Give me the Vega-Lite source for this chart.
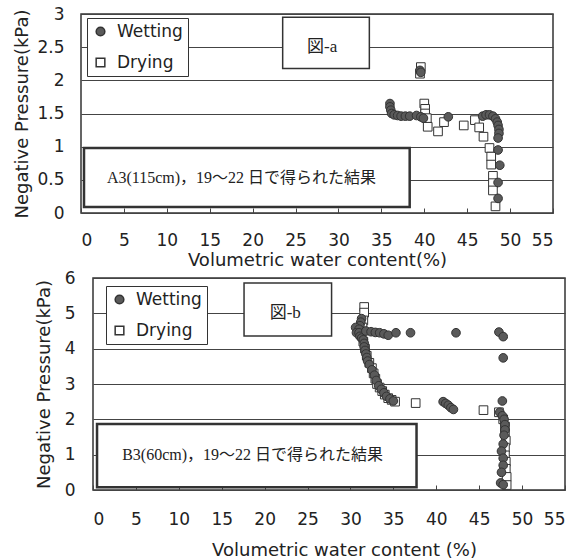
{
  "$schema": "https://vega.github.io/schema/vega-lite/v6.json",
  "background": "white",
  "padding": {"left": 0, "top": 4, "right": 4, "bottom": 4},
  "datasets": {
    "panelA": [
      {"process": "Drying", "water_content": 39.6, "pressure_kPa": 2.2},
      {"process": "Drying", "water_content": 39.5, "pressure_kPa": 2.1},
      {"process": "Drying", "water_content": 40.0, "pressure_kPa": 1.65},
      {"process": "Drying", "water_content": 40.1, "pressure_kPa": 1.57},
      {"process": "Drying", "water_content": 40.1, "pressure_kPa": 1.5},
      {"process": "Drying", "water_content": 40.3, "pressure_kPa": 1.43},
      {"process": "Drying", "water_content": 40.4, "pressure_kPa": 1.3},
      {"process": "Drying", "water_content": 41.6, "pressure_kPa": 1.23},
      {"process": "Drying", "water_content": 42.3, "pressure_kPa": 1.37},
      {"process": "Drying", "water_content": 44.6, "pressure_kPa": 1.32},
      {"process": "Drying", "water_content": 45.9, "pressure_kPa": 1.4},
      {"process": "Drying", "water_content": 46.4, "pressure_kPa": 1.29},
      {"process": "Drying", "water_content": 46.9, "pressure_kPa": 1.15},
      {"process": "Drying", "water_content": 47.6, "pressure_kPa": 0.98},
      {"process": "Drying", "water_content": 47.8, "pressure_kPa": 0.85},
      {"process": "Drying", "water_content": 47.8, "pressure_kPa": 0.73},
      {"process": "Drying", "water_content": 48.0, "pressure_kPa": 0.56},
      {"process": "Drying", "water_content": 48.0, "pressure_kPa": 0.45},
      {"process": "Drying", "water_content": 48.0, "pressure_kPa": 0.34},
      {"process": "Drying", "water_content": 48.3, "pressure_kPa": 0.1},
      {"process": "Wetting", "water_content": 39.5, "pressure_kPa": 2.15},
      {"process": "Wetting", "water_content": 39.6, "pressure_kPa": 2.12},
      {"process": "Wetting", "water_content": 36.0, "pressure_kPa": 1.65},
      {"process": "Wetting", "water_content": 36.0, "pressure_kPa": 1.6},
      {"process": "Wetting", "water_content": 36.1, "pressure_kPa": 1.55},
      {"process": "Wetting", "water_content": 36.2, "pressure_kPa": 1.5},
      {"process": "Wetting", "water_content": 36.5, "pressure_kPa": 1.48},
      {"process": "Wetting", "water_content": 36.9, "pressure_kPa": 1.47},
      {"process": "Wetting", "water_content": 37.3, "pressure_kPa": 1.46},
      {"process": "Wetting", "water_content": 37.8, "pressure_kPa": 1.46},
      {"process": "Wetting", "water_content": 38.3, "pressure_kPa": 1.46},
      {"process": "Wetting", "water_content": 39.1, "pressure_kPa": 1.47},
      {"process": "Wetting", "water_content": 39.6, "pressure_kPa": 1.45},
      {"process": "Wetting", "water_content": 39.9, "pressure_kPa": 1.43},
      {"process": "Wetting", "water_content": 42.8, "pressure_kPa": 1.45},
      {"process": "Wetting", "water_content": 46.8, "pressure_kPa": 1.46},
      {"process": "Wetting", "water_content": 47.2, "pressure_kPa": 1.48},
      {"process": "Wetting", "water_content": 47.6, "pressure_kPa": 1.48},
      {"process": "Wetting", "water_content": 48.0, "pressure_kPa": 1.46},
      {"process": "Wetting", "water_content": 48.3, "pressure_kPa": 1.42},
      {"process": "Wetting", "water_content": 48.5, "pressure_kPa": 1.37},
      {"process": "Wetting", "water_content": 48.6, "pressure_kPa": 1.32},
      {"process": "Wetting", "water_content": 48.7, "pressure_kPa": 1.26},
      {"process": "Wetting", "water_content": 48.7, "pressure_kPa": 1.2},
      {"process": "Wetting", "water_content": 48.6, "pressure_kPa": 1.13},
      {"process": "Wetting", "water_content": 48.6, "pressure_kPa": 0.95},
      {"process": "Wetting", "water_content": 48.8, "pressure_kPa": 0.72},
      {"process": "Wetting", "water_content": 48.6, "pressure_kPa": 0.46},
      {"process": "Wetting", "water_content": 48.6, "pressure_kPa": 0.22}
    ],
    "panelB": [
      {"process": "Drying", "water_content": 31.6, "pressure_kPa": 5.18},
      {"process": "Drying", "water_content": 31.6, "pressure_kPa": 5.02},
      {"process": "Drying", "water_content": 31.5, "pressure_kPa": 4.8},
      {"process": "Drying", "water_content": 31.4, "pressure_kPa": 4.6},
      {"process": "Drying", "water_content": 31.3, "pressure_kPa": 4.4},
      {"process": "Drying", "water_content": 31.5, "pressure_kPa": 4.2},
      {"process": "Drying", "water_content": 31.7, "pressure_kPa": 4.0},
      {"process": "Drying", "water_content": 31.9, "pressure_kPa": 3.8},
      {"process": "Drying", "water_content": 32.2, "pressure_kPa": 3.6},
      {"process": "Drying", "water_content": 32.5, "pressure_kPa": 3.45},
      {"process": "Drying", "water_content": 32.7, "pressure_kPa": 3.3},
      {"process": "Drying", "water_content": 32.9, "pressure_kPa": 3.15},
      {"process": "Drying", "water_content": 33.1, "pressure_kPa": 3.0},
      {"process": "Drying", "water_content": 33.4, "pressure_kPa": 2.9},
      {"process": "Drying", "water_content": 33.7, "pressure_kPa": 2.8},
      {"process": "Drying", "water_content": 34.0, "pressure_kPa": 2.7},
      {"process": "Drying", "water_content": 34.4, "pressure_kPa": 2.6},
      {"process": "Drying", "water_content": 34.8, "pressure_kPa": 2.55},
      {"process": "Drying", "water_content": 35.2, "pressure_kPa": 2.5},
      {"process": "Drying", "water_content": 37.6, "pressure_kPa": 2.46},
      {"process": "Drying", "water_content": 45.5, "pressure_kPa": 2.26},
      {"process": "Drying", "water_content": 47.3, "pressure_kPa": 2.2},
      {"process": "Drying", "water_content": 47.8, "pressure_kPa": 2.0},
      {"process": "Drying", "water_content": 48.0, "pressure_kPa": 1.8},
      {"process": "Drying", "water_content": 48.0, "pressure_kPa": 1.6},
      {"process": "Drying", "water_content": 48.1, "pressure_kPa": 1.4},
      {"process": "Drying", "water_content": 48.0, "pressure_kPa": 1.2},
      {"process": "Drying", "water_content": 48.0, "pressure_kPa": 0.98},
      {"process": "Drying", "water_content": 48.1, "pressure_kPa": 0.8},
      {"process": "Drying", "water_content": 48.1, "pressure_kPa": 0.6},
      {"process": "Drying", "water_content": 48.2, "pressure_kPa": 0.37},
      {"process": "Drying", "water_content": 48.2, "pressure_kPa": 0.14},
      {"process": "Wetting", "water_content": 31.3, "pressure_kPa": 4.85},
      {"process": "Wetting", "water_content": 31.2, "pressure_kPa": 4.75},
      {"process": "Wetting", "water_content": 31.1, "pressure_kPa": 4.65},
      {"process": "Wetting", "water_content": 30.6, "pressure_kPa": 4.6},
      {"process": "Wetting", "water_content": 31.0, "pressure_kPa": 4.55},
      {"process": "Wetting", "water_content": 30.7, "pressure_kPa": 4.45},
      {"process": "Wetting", "water_content": 31.0, "pressure_kPa": 4.45},
      {"process": "Wetting", "water_content": 31.1, "pressure_kPa": 4.35},
      {"process": "Wetting", "water_content": 31.3, "pressure_kPa": 4.3},
      {"process": "Wetting", "water_content": 31.5, "pressure_kPa": 4.25},
      {"process": "Wetting", "water_content": 31.6, "pressure_kPa": 4.15},
      {"process": "Wetting", "water_content": 31.6, "pressure_kPa": 4.05},
      {"process": "Wetting", "water_content": 31.7, "pressure_kPa": 3.95},
      {"process": "Wetting", "water_content": 31.8, "pressure_kPa": 3.85},
      {"process": "Wetting", "water_content": 31.9, "pressure_kPa": 3.75},
      {"process": "Wetting", "water_content": 32.0, "pressure_kPa": 3.65},
      {"process": "Wetting", "water_content": 31.8, "pressure_kPa": 4.5},
      {"process": "Wetting", "water_content": 32.4, "pressure_kPa": 4.48},
      {"process": "Wetting", "water_content": 32.9, "pressure_kPa": 4.46},
      {"process": "Wetting", "water_content": 33.4, "pressure_kPa": 4.45},
      {"process": "Wetting", "water_content": 33.9, "pressure_kPa": 4.42},
      {"process": "Wetting", "water_content": 34.4, "pressure_kPa": 4.38},
      {"process": "Wetting", "water_content": 35.3, "pressure_kPa": 4.45},
      {"process": "Wetting", "water_content": 37.0, "pressure_kPa": 4.45},
      {"process": "Wetting", "water_content": 42.3, "pressure_kPa": 4.45},
      {"process": "Wetting", "water_content": 47.3, "pressure_kPa": 4.47},
      {"process": "Wetting", "water_content": 47.8, "pressure_kPa": 4.34},
      {"process": "Wetting", "water_content": 47.8, "pressure_kPa": 3.74},
      {"process": "Wetting", "water_content": 32.2, "pressure_kPa": 3.55},
      {"process": "Wetting", "water_content": 32.5, "pressure_kPa": 3.4},
      {"process": "Wetting", "water_content": 32.8, "pressure_kPa": 3.25},
      {"process": "Wetting", "water_content": 33.0, "pressure_kPa": 3.1},
      {"process": "Wetting", "water_content": 33.3, "pressure_kPa": 2.95},
      {"process": "Wetting", "water_content": 33.6, "pressure_kPa": 2.85},
      {"process": "Wetting", "water_content": 33.9, "pressure_kPa": 2.75},
      {"process": "Wetting", "water_content": 34.2, "pressure_kPa": 2.65},
      {"process": "Wetting", "water_content": 34.6, "pressure_kPa": 2.58},
      {"process": "Wetting", "water_content": 35.0, "pressure_kPa": 2.52},
      {"process": "Wetting", "water_content": 40.8, "pressure_kPa": 2.5},
      {"process": "Wetting", "water_content": 41.1, "pressure_kPa": 2.45},
      {"process": "Wetting", "water_content": 41.4, "pressure_kPa": 2.4},
      {"process": "Wetting", "water_content": 41.7, "pressure_kPa": 2.33},
      {"process": "Wetting", "water_content": 42.0, "pressure_kPa": 2.28},
      {"process": "Wetting", "water_content": 47.7, "pressure_kPa": 2.52},
      {"process": "Wetting", "water_content": 47.4, "pressure_kPa": 2.2},
      {"process": "Wetting", "water_content": 47.7, "pressure_kPa": 2.1},
      {"process": "Wetting", "water_content": 47.9, "pressure_kPa": 2.0},
      {"process": "Wetting", "water_content": 48.0, "pressure_kPa": 1.85},
      {"process": "Wetting", "water_content": 48.0, "pressure_kPa": 1.7},
      {"process": "Wetting", "water_content": 47.9, "pressure_kPa": 1.55},
      {"process": "Wetting", "water_content": 47.8, "pressure_kPa": 1.3},
      {"process": "Wetting", "water_content": 47.6, "pressure_kPa": 1.1},
      {"process": "Wetting", "water_content": 47.8, "pressure_kPa": 0.9},
      {"process": "Wetting", "water_content": 47.8, "pressure_kPa": 0.7},
      {"process": "Wetting", "water_content": 47.6, "pressure_kPa": 0.5},
      {"process": "Wetting", "water_content": 47.5, "pressure_kPa": 0.2},
      {"process": "Wetting", "water_content": 47.8, "pressure_kPa": 0.15}
    ]
  },
  "config": {
    "font": "DejaVu Sans",
    "axis": {
      "labelFont": "DejaVu Sans",
      "labelFontSize": 17,
      "labelColor": "#222",
      "titleFont": "DejaVu Sans",
      "titleFontSize": 18,
      "titleFontWeight": "normal",
      "titleColor": "#222",
      "gridColor": "#444",
      "gridWidth": 1,
      "domain": false
    },
    "axisX": {
      "grid": false,
      "ticks": true,
      "tickSize": -5,
      "tickColor": "#444"
    },
    "axisY": {
      "grid": true,
      "ticks": false,
      "format": "~g"
    },
    "legend": {
      "labelFont": "DejaVu Sans",
      "labelFontSize": 17,
      "labelColor": "#222",
      "symbolSize": 75,
      "strokeColor": "#333",
      "fillColor": "white",
      "padding": 5,
      "rowPadding": 13,
      "labelOffset": 8
    }
  },
  "spacing": -2,
  "resolve": {"scale": {"shape": "independent", "fill": "independent"}},
  "vconcat": [
    {
      "spacing": 0,
      "resolve": {"scale": {"shape": "independent", "fill": "independent"}},
      "hconcat": [
        {
          "width": 13,
          "height": 1,
          "view": {"stroke": null},
          "data": {"values": []},
          "mark": {"type": "point", "opacity": 0},
          "encoding": {}
        },
        {
          "width": 472,
          "height": 199,
          "view": {"stroke": "#333", "strokeWidth": 1.5},
          "layer": [
            {
              "data": {"values": [{}]},
              "mark": {"type": "rect", "fill": "white", "stroke": "#333", "strokeWidth": 1.5},
              "encoding": {
                "x": {"datum": 23.5, "type": "quantitative", "scale": {"domain": [0, 55], "nice": false, "zero": false}, "axis": {"title": "Volumetric water content(%)", "values": [0, 5, 10, 15, 20, 25, 30, 35, 40, 45, 50, 55], "labelPadding": 24, "titlePadding": 3}},
                "x2": {"datum": 33.6},
                "y": {"datum": 2.95, "type": "quantitative", "scale": {"domain": [0, 3], "nice": false}, "axis": {"title": "Negative Pressure(kPa)", "values": [0, 0.5, 1, 1.5, 2, 2.5, 3], "labelPadding": 17, "titlePadding": 5}},
                "y2": {"datum": 2.18}
              }
            },
            {
              "data": {"values": [{}]},
              "mark": {"type": "text", "text": "図-a", "font": "Liberation Serif, Noto Sans CJK JP", "fontSize": 17, "color": "#222"},
              "encoding": {
                "x": {"datum": 28.1, "type": "quantitative", "axis": {"title": "Volumetric water content(%)", "values": [0, 5, 10, 15, 20, 25, 30, 35, 40, 45, 50, 55], "labelPadding": 24, "titlePadding": 3}},
                "y": {"datum": 2.51, "type": "quantitative", "axis": {"title": "Negative Pressure(kPa)", "values": [0, 0.5, 1, 1.5, 2, 2.5, 3], "labelPadding": 17, "titlePadding": 5}}
              }
            },
            {
              "data": {"values": [{}]},
              "mark": {"type": "rect", "fill": "white", "stroke": "#333", "strokeWidth": 2.5},
              "encoding": {
                "x": {"datum": 0.35, "type": "quantitative", "axis": {"title": "Volumetric water content(%)", "values": [0, 5, 10, 15, 20, 25, 30, 35, 40, 45, 50, 55], "labelPadding": 24, "titlePadding": 3}},
                "x2": {"datum": 38.3},
                "y": {"datum": 0.98, "type": "quantitative", "axis": {"title": "Negative Pressure(kPa)", "values": [0, 0.5, 1, 1.5, 2, 2.5, 3], "labelPadding": 17, "titlePadding": 5}},
                "y2": {"datum": 0.09}
              }
            },
            {
              "data": {"values": [{}]},
              "mark": {"type": "text", "text": "A3(115cm)，19〜22 日で得られた結果", "font": "Liberation Serif, Noto Sans CJK JP", "fontSize": 16, "color": "#222"},
              "encoding": {
                "x": {"datum": 18.7, "type": "quantitative", "axis": {"title": "Volumetric water content(%)", "values": [0, 5, 10, 15, 20, 25, 30, 35, 40, 45, 50, 55], "labelPadding": 24, "titlePadding": 3}},
                "y": {"datum": 0.53, "type": "quantitative", "axis": {"title": "Negative Pressure(kPa)", "values": [0, 0.5, 1, 1.5, 2, 2.5, 3], "labelPadding": 17, "titlePadding": 5}}
              }
            },
            {
              "data": {"name": "panelA"},
              "mark": {"type": "point", "filled": true, "stroke": "#333", "strokeWidth": 1, "size": 75, "opacity": 1},
              "encoding": {
                "x": {"field": "water_content", "type": "quantitative", "axis": {"title": "Volumetric water content(%)", "values": [0, 5, 10, 15, 20, 25, 30, 35, 40, 45, 50, 55], "labelPadding": 24, "titlePadding": 3}},
                "y": {"field": "pressure_kPa", "type": "quantitative", "axis": {"title": "Negative Pressure(kPa)", "values": [0, 0.5, 1, 1.5, 2, 2.5, 3], "labelPadding": 17, "titlePadding": 5}},
                "shape": {
                  "field": "process",
                  "type": "nominal",
                  "scale": {"domain": ["Wetting", "Drying"], "range": ["circle", "square"]},
                  "legend": {"title": null, "orient": "none", "legendX": 6, "legendY": 4, "encode": {"symbols": {"update": {"stroke": {"value": "#333"}, "strokeWidth": {"value": 1.2}}}}}
                },
                "fill": {
                  "field": "process",
                  "type": "nominal",
                  "scale": {"domain": ["Wetting", "Drying"], "range": ["#5a5a5a", "white"]},
                  "legend": {"title": null, "orient": "none", "legendX": 6, "legendY": 4, "encode": {"symbols": {"update": {"stroke": {"value": "#333"}, "strokeWidth": {"value": 1.2}}}}}
                }
              }
            }
          ]
        }
      ]
    },
    {
      "spacing": 0,
      "resolve": {"scale": {"shape": "independent", "fill": "independent"}},
      "hconcat": [
        {
          "width": 34,
          "height": 1,
          "view": {"stroke": null},
          "data": {"values": []},
          "mark": {"type": "point", "opacity": 0},
          "encoding": {}
        },
        {
          "width": 472,
          "height": 212,
          "view": {"stroke": "#333", "strokeWidth": 1.5},
          "layer": [
            {
              "data": {"values": [{}]},
              "mark": {"type": "rect", "fill": "white", "stroke": "#333", "strokeWidth": 1.5},
              "encoding": {
                "x": {"datum": 17.6, "type": "quantitative", "scale": {"domain": [0, 55], "nice": false, "zero": false}, "axis": {"title": "Volumetric water content (%)", "values": [0, 5, 10, 15, 20, 25, 30, 35, 40, 45, 50, 55], "labelPadding": 26, "titlePadding": 14, "titleX": 251}},
                "x2": {"datum": 27.8},
                "y": {"datum": 5.86, "type": "quantitative", "scale": {"domain": [0, 6], "nice": false}, "axis": {"title": "Negative Pressure(kPa)", "values": [0, 1, 2, 3, 4, 5, 6], "labelPadding": 18, "titlePadding": 11}},
                "y2": {"datum": 4.36}
              }
            },
            {
              "data": {"values": [{}]},
              "mark": {"type": "text", "text": "図-b", "font": "Liberation Serif, Noto Sans CJK JP", "fontSize": 17, "color": "#222"},
              "encoding": {
                "x": {"datum": 22.4, "type": "quantitative", "axis": {"title": "Volumetric water content (%)", "values": [0, 5, 10, 15, 20, 25, 30, 35, 40, 45, 50, 55], "labelPadding": 26, "titlePadding": 14, "titleX": 251}},
                "y": {"datum": 5.0, "type": "quantitative", "axis": {"title": "Negative Pressure(kPa)", "values": [0, 1, 2, 3, 4, 5, 6], "labelPadding": 18, "titlePadding": 11}}
              }
            },
            {
              "data": {"values": [{}]},
              "mark": {"type": "rect", "fill": "white", "stroke": "#333", "strokeWidth": 2.5},
              "encoding": {
                "x": {"datum": 0.47, "type": "quantitative", "axis": {"title": "Volumetric water content (%)", "values": [0, 5, 10, 15, 20, 25, 30, 35, 40, 45, 50, 55], "labelPadding": 26, "titlePadding": 14, "titleX": 251}},
                "x2": {"datum": 37.7},
                "y": {"datum": 1.87, "type": "quantitative", "axis": {"title": "Negative Pressure(kPa)", "values": [0, 1, 2, 3, 4, 5, 6], "labelPadding": 18, "titlePadding": 11}},
                "y2": {"datum": 0.08}
              }
            },
            {
              "data": {"values": [{}]},
              "mark": {"type": "text", "text": "B3(60cm)，19〜22 日で得られた結果", "font": "Liberation Serif, Noto Sans CJK JP", "fontSize": 16, "color": "#222"},
              "encoding": {
                "x": {"datum": 18.6, "type": "quantitative", "axis": {"title": "Volumetric water content (%)", "values": [0, 5, 10, 15, 20, 25, 30, 35, 40, 45, 50, 55], "labelPadding": 26, "titlePadding": 14, "titleX": 251}},
                "y": {"datum": 0.99, "type": "quantitative", "axis": {"title": "Negative Pressure(kPa)", "values": [0, 1, 2, 3, 4, 5, 6], "labelPadding": 18, "titlePadding": 11}}
              }
            },
            {
              "data": {"name": "panelB"},
              "mark": {"type": "point", "filled": true, "stroke": "#333", "strokeWidth": 1, "size": 75, "opacity": 1},
              "encoding": {
                "x": {"field": "water_content", "type": "quantitative", "axis": {"title": "Volumetric water content (%)", "values": [0, 5, 10, 15, 20, 25, 30, 35, 40, 45, 50, 55], "labelPadding": 26, "titlePadding": 14, "titleX": 251}},
                "y": {"field": "pressure_kPa", "type": "quantitative", "axis": {"title": "Negative Pressure(kPa)", "values": [0, 1, 2, 3, 4, 5, 6], "labelPadding": 18, "titlePadding": 11}},
                "shape": {
                  "field": "process",
                  "type": "nominal",
                  "scale": {"domain": ["Wetting", "Drying"], "range": ["circle", "square"]},
                  "legend": {"title": null, "orient": "none", "legendX": 13, "legendY": 8, "encode": {"symbols": {"update": {"stroke": {"value": "#333"}, "strokeWidth": {"value": 1.2}}}}}
                },
                "fill": {
                  "field": "process",
                  "type": "nominal",
                  "scale": {"domain": ["Wetting", "Drying"], "range": ["#5a5a5a", "white"]},
                  "legend": {"title": null, "orient": "none", "legendX": 13, "legendY": 8, "encode": {"symbols": {"update": {"stroke": {"value": "#333"}, "strokeWidth": {"value": 1.2}}}}}
                }
              }
            }
          ]
        }
      ]
    }
  ]
}
